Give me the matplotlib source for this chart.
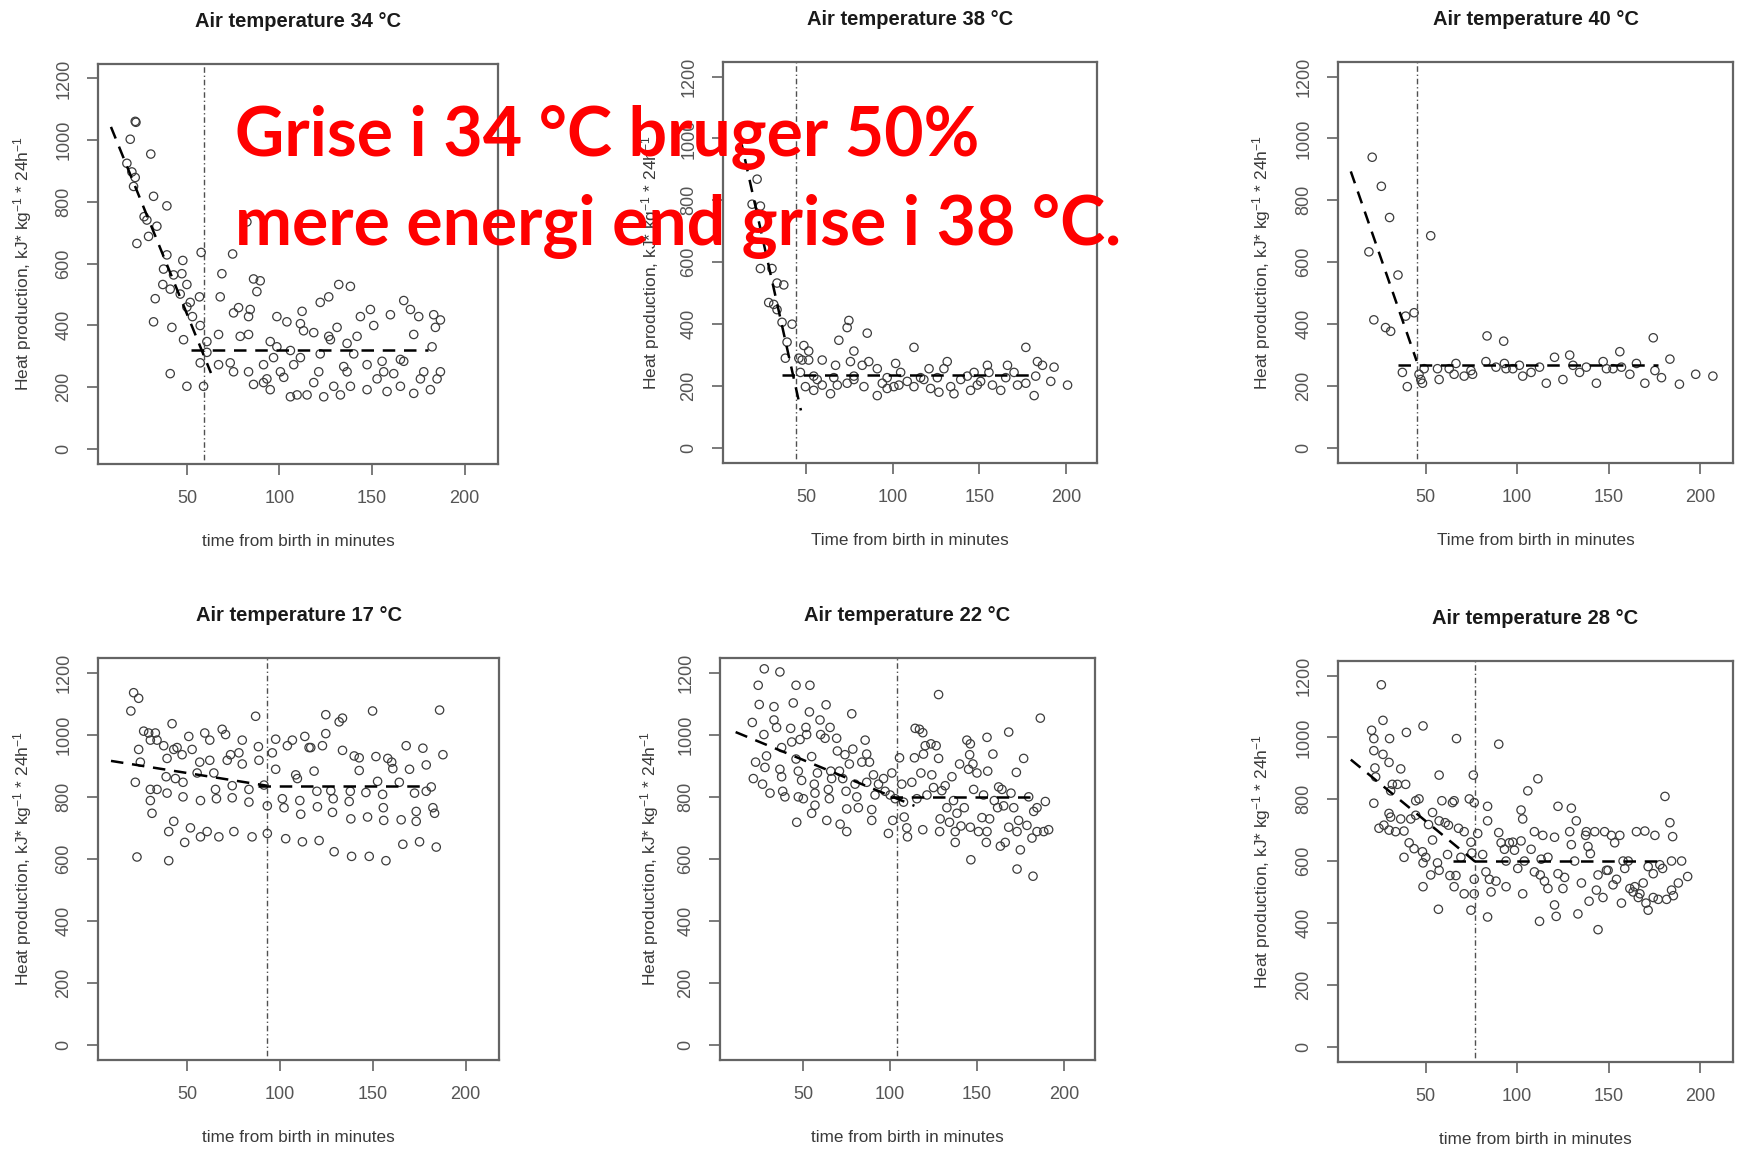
import matplotlib
matplotlib.use("Agg")
import matplotlib.pyplot as plt

plt.rcParams['font.family'] = ['Liberation Sans', 'DejaVu Sans']
plt.rcParams['mathtext.default'] = 'regular'

# ---- data (minutes, kJ kg-1 24h-1) ----
t34_x = [22.1, 22.5, 19.4, 30.5, 17.6, 20.3, 22.1, 21.2, 32.0, 39.2, 26.9, 28.4, 33.8, 23.0, 29.3,
         39.2, 47.8, 57.7, 37.4, 42.8, 47.3, 37.0, 50.0, 32.9, 32.0, 46.4, 41.0, 50.0, 51.8, 56.8,
         53.0, 57.2, 41.9, 48.2, 41.0, 50.0, 59.0, 57.2, 60.8, 60.8, 67.1, 68.0, 68.9, 74.7, 82.4,
         86.0, 89.6, 87.8, 77.9, 75.2, 84.2, 83.3, 78.8, 83.3, 73.4, 67.1, 75.2, 83.3, 86.0, 91.4,
         95.0, 98.6, 98.6, 104.0, 91.4, 93.2, 95.0, 100.5, 102.3, 105.9, 109.5, 114.9, 107.7, 111.3,
         112.2, 113.0, 118.5, 118.5, 122.0, 126.6, 123.9, 127.5, 131.1, 129.3, 132.9, 132.0, 138.3,
         136.5, 138.3, 140.1, 143.7, 149.1, 150.9, 147.3, 147.3, 141.9, 152.7, 155.4, 158.1, 159.9,
         161.7, 165.3, 167.1, 170.7, 172.5, 172.5, 175.2, 177.9, 176.1, 183.3, 184.2, 182.4, 186.9,
         186.9, 181.5, 185.1, 165.3, 156.3, 167.1, 136.5, 134.7, 122.0, 121.2, 126.6, 105.9, 111.3, 96.8]
t34_y = [1061, 1058, 1003, 955, 925, 897, 879, 850, 818, 787, 752, 741, 721, 665, 688,
         628, 610, 636, 582, 563, 567, 532, 532, 486, 411, 501, 517, 459, 474, 492,
         428, 399, 393, 353, 243, 202, 202, 278, 312, 347, 370, 492, 567, 631, 735,
         550, 544, 509, 457, 440, 451, 428, 364, 370, 278, 272, 249, 249, 208, 214,
         347, 330, 428, 411, 272, 226, 191, 249, 231, 168, 174, 174, 272, 405,
         445, 382, 376, 214, 474, 492, 168, 353, 393, 202, 174, 532, 526,
         249, 202, 307, 428, 451, 399, 272, 191, 364, 226, 283, 185, 434,
         243, 202, 480, 451, 370, 179, 428, 249, 226, 434, 393, 330, 417,
         249, 191, 226, 289, 249, 283, 341, 266, 307, 249, 364, 318, 295, 295]

t38_x = [21.7, 18.8, 23.6, 23.6, 30.3, 33.2, 37.1, 28.4, 31.3, 33.2, 41.9, 36.1, 39.0, 38.0, 45.8,
         48.7, 51.5, 47.7, 51.5, 46.7, 49.6, 54.4, 59.3, 56.4, 59.3, 64.1, 67.0, 68.0, 68.9, 73.7,
         74.7, 77.6, 75.6, 73.7, 77.6, 83.4, 82.4, 85.3, 86.2, 91.1, 91.1, 94.0, 96.8, 100.7, 101.7,
         103.6, 108.4, 112.3, 112.3, 116.1, 121.0, 121.9, 125.8, 126.7, 129.6, 131.5, 133.5, 135.4,
         139.3, 143.1, 145.0, 148.9, 154.7, 155.6, 157.6, 162.4, 165.3, 166.3, 172.1, 176.9, 176.9,
         181.7, 182.6, 183.6, 186.5, 191.3, 193.2, 201.0, 170.1, 150.8, 147.0, 118.0, 104.6, 96.8,
         77.6, 66.0, 54.4]
t38_y = [868, 787, 781, 579, 579, 532, 526, 469, 463, 446, 399, 405, 341, 289, 289,
         330, 312, 283, 283, 243, 197, 185, 283, 220, 202, 174, 266, 202, 347, 388,
         411, 312, 278, 208, 231, 197, 266, 370, 278, 255, 168, 208, 226, 197, 272,
         202, 214, 324, 197, 226, 255, 191, 226, 179, 255, 278, 197, 174,
         220, 231, 185, 202, 266, 243, 202, 185, 226, 266, 202, 324, 208,
         168, 231, 278, 266, 214, 260, 202, 243, 214, 243, 220, 243, 191,
         220, 226, 231]

t40_x = [20.7, 25.7, 30.2, 18.9, 34.8, 52.7, 21.6, 28.0, 30.8, 39.0, 43.6, 37.2, 39.9, 46.3, 47.3,
         48.2, 49.1, 57.3, 56.4, 62.8, 65.5, 66.5, 71.0, 74.7, 75.6, 82.9, 83.5, 88.4, 92.6, 93.0,
         93.9, 97.6, 101.2, 103.0, 107.6, 112.2, 115.9, 120.4, 125.0, 128.7, 130.5, 134.1, 137.8,
         143.3, 147.0, 148.8, 152.4, 156.1, 157.0, 161.6, 165.2, 169.8, 174.4, 175.3, 178.9, 183.5,
         188.7, 197.6, 207.0]
t40_y = [939, 845, 744, 633, 558, 685, 413, 388, 376, 425, 436, 243, 197, 237, 220,
         208, 255, 220, 255, 255, 237, 272, 231, 249, 237, 278, 361, 260, 344, 272,
         255, 255, 266, 231, 243, 260, 208, 292, 220, 299, 266, 243, 260,
         208, 278, 255, 255, 310, 260, 237, 272, 208, 355, 249, 226, 286,
         205, 237, 231]

t17_x = [19.7, 21.2, 23.9, 22.1, 23.0, 23.9, 24.8, 26.6, 29.3, 30.2, 32.9, 33.8, 30.2, 30.2, 31.1,
         33.8, 37.4, 39.2, 38.7, 39.2, 40.1, 40.1, 41.9, 42.8, 43.7, 42.8, 44.6, 47.3, 47.8, 47.8,
         48.7, 50.9, 52.7, 51.8, 55.4, 56.8, 57.2, 57.2, 59.5, 60.8, 62.2, 62.2, 64.4, 65.3, 65.8,
         67.1, 68.9, 70.7, 71.6, 73.4, 74.3, 74.3, 75.2, 77.9, 79.7, 79.7, 83.3, 85.0, 83.3, 86.9,
         88.4, 88.7, 91.4, 93.2, 93.2, 95.9, 97.7, 97.7, 101.3, 102.2, 103.1, 104.0, 106.7, 108.5,
         109.4, 110.7, 111.2, 112.1, 113.4, 115.7, 116.6, 118.4, 119.9, 120.2, 121.1, 122.9, 124.7,
         124.7, 127.4, 128.7, 128.3, 129.2, 131.9, 133.7, 133.7, 137.3, 137.9, 138.2, 138.6, 140.0,
         142.7, 142.7, 146.3, 147.2, 148.1, 149.9, 151.7, 152.6, 155.3, 155.7, 155.9, 157.1, 158.1,
         160.2, 160.8, 164.3, 165.3, 166.2, 168.0, 169.8, 172.5, 173.4, 173.4, 175.2, 177.0, 178.8,
         178.8, 181.5, 182.4, 183.3, 184.2, 186.0, 187.8]
t17_y = [1076, 1135, 1117, 846, 605, 952, 911, 1011, 1005, 982, 1005, 982, 823, 787, 746,
         823, 964, 923, 864, 811, 687, 593, 1035, 952, 858, 720, 958, 935, 846, 799,
         652, 994, 952, 699, 876, 911, 787, 670, 1005, 687, 982, 917, 876, 823, 793,
         670, 1017, 1000, 917, 935, 835, 796, 687, 941, 982, 905, 782, 670, 823, 1059,
         961, 917, 837, 770, 681, 941, 985, 888, 793, 764, 664, 964, 982, 870,
         858, 787, 743, 654, 994, 958, 958, 882, 817, 767, 658, 964, 1064,
         1003, 819, 793, 749, 622, 1041, 1053, 949, 784, 817, 728, 607, 931,
         925, 884, 813, 734, 607, 1076, 929, 849, 807, 764, 723, 593, 923,
         911, 890, 846, 725, 646, 964, 888, 811, 752, 720, 654, 956, 902,
         817, 831, 764, 746, 637, 1079, 935]

t22_x = [20.6, 21.2, 22.5, 24.0, 24.6, 26.5, 27.3, 27.5, 27.9, 28.8, 30.8, 33.1, 33.1, 34.6, 36.5,
         36.5, 37.5, 37.5, 38.1, 39.4, 42.7, 43.3, 44.2, 45.8, 45.8, 46.2, 47.1, 47.1, 48.1, 49.0,
         50.0, 51.5, 51.9, 53.5, 53.8, 54.8, 54.8, 56.3, 56.7, 56.7, 58.1, 59.6, 60.0, 62.5, 63.1,
         63.5, 64.4, 65.0, 65.4, 65.8, 66.3, 69.2, 69.6, 70.8, 71.2, 72.7, 74.0, 74.6, 75.0, 75.0,
         76.5, 77.9, 78.5, 79.8, 80.8, 81.7, 83.7, 85.6, 86.5, 86.5, 88.1, 89.4, 89.4, 90.4, 91.3,
         93.3, 96.2, 97.1, 99.0, 100.0, 101.0, 101.5, 102.9, 105.4, 106.7, 107.7, 108.1, 109.6,
         110.0, 112.5, 114.0, 114.4, 115.4, 116.9, 117.7, 118.8, 118.8, 119.2, 120.2, 121.2, 123.5,
         124.0, 125.0, 126.5, 127.9, 127.9, 128.5, 128.8, 129.8, 131.7, 132.7, 134.2, 135.6, 136.5,
         137.5, 137.5, 138.5, 140.0, 140.8, 142.7, 144.2, 145.2, 145.8, 146.2, 146.2, 146.5, 147.7,
         148.1, 150.0, 150.9, 152.9, 153.8, 155.4, 155.8, 155.8, 156.2, 157.3, 159.2, 160.0, 161.9,
         162.5, 163.5, 164.4, 165.4, 166.3, 168.3, 168.3, 169.6, 171.2, 172.7, 173.1, 173.1, 174.0,
         175.0, 176.9, 178.8, 179.8, 181.7, 182.3, 182.7, 184.6, 186.5, 189.4, 188.5, 191.3, 184.6]
t22_y = [1039, 858, 911, 1159, 1097, 840, 1000, 1212, 894, 931, 811, 1090, 1047, 1023, 1202,
         888, 958, 864, 817, 799, 1020, 976, 1102, 1159, 921, 717, 882, 799, 984, 852,
         793, 1023, 1000, 1073, 1159, 929, 746, 840, 811, 772, 876, 1047, 1000, 988, 1096,
         723, 823, 793, 1023, 882, 858, 988, 947, 882, 711, 858, 935, 817, 760, 687,
         905, 1067, 953, 840, 799, 764, 911, 982, 937, 846, 911, 758, 723, 870, 805,
         840, 858, 817, 681, 805, 876, 723, 793, 925, 840, 782, 734, 699,
         670, 846, 925, 1020, 793, 1017, 876, 1006, 693, 937, 964, 805, 970,
         870, 829, 964, 923, 1129, 687, 728, 819, 835, 764, 717, 864, 787,
         687, 652, 746, 905, 705, 764, 982, 888, 935, 970, 701, 596, 905,
         823, 876, 687, 732, 805, 652, 687, 991, 882, 728, 937, 787, 764,
         831, 640, 823, 770, 652, 1008, 701, 811, 764, 878, 687, 566, 723,
         628, 923, 707, 799, 666, 543, 752, 764, 1053, 784, 687, 693, 687]

t28_x = [25.7, 26.6, 20.4, 21.6, 30.2, 21.6, 26.6, 29.9, 22.2, 22.6, 36.3, 31.7, 34.5, 39.0, 39.4,
         48.5, 21.6, 30.8, 29.9, 30.8, 24.4, 27.1, 29.9, 33.5, 36.3, 38.1, 38.1, 41.8, 40.9, 44.5,
         46.3, 44.5, 43.6, 48.2, 48.5, 48.5, 50.0, 53.7, 53.7, 52.7, 51.5, 57.3, 56.9, 58.8, 57.3,
         56.4, 57.3, 60.6, 62.4, 64.6, 65.5, 61.9, 63.2, 66.5, 65.5, 66.8, 67.9, 71.0, 69.2, 71.0,
         73.8, 74.7, 75.2, 76.0, 76.5, 76.5, 76.5, 74.7, 78.4, 81.1, 82.9, 83.8, 83.8, 83.8, 84.8,
         85.7, 88.4, 89.9, 89.9, 91.2, 93.0, 93.9, 93.9, 95.7, 97.6, 98.5, 100.3, 102.1, 102.1,
         103.0, 103.0, 103.9, 105.8, 107.6, 109.4, 109.4, 111.3, 112.2, 112.6, 113.1, 114.0, 114.9,
         116.8, 116.8, 120.4, 120.4, 121.3, 122.3, 122.3, 125.0, 125.9, 128.7, 129.6, 129.6, 131.4,
         132.3, 133.2, 135.1, 137.4, 137.8, 138.7, 139.3, 140.0, 142.4, 143.3, 144.2, 144.2, 147.8,
         146.9, 148.8, 149.7, 151.5, 152.4, 153.3, 154.3, 156.1, 157.0, 157.9, 158.8, 160.7, 161.6,
         163.4, 164.3, 165.2, 166.2, 167.1, 168.9, 169.8, 170.4, 171.6, 171.6, 174.4, 175.3, 174.4,
         177.1, 178.0, 179.5, 180.8, 181.7, 183.5, 184.4, 184.4, 185.0, 185.4, 189.9, 188.1, 193.2]
t28_y = [1170, 1055, 1023, 996, 996, 957, 945, 919, 901, 872, 898, 848, 848, 848, 1016,
         1037, 787, 827, 754, 742, 706, 716, 700, 695, 736, 697, 612, 736, 659, 795,
         801, 748, 640, 630, 594, 517, 612, 757, 668, 555, 718, 878, 444, 795, 730,
         594, 570, 724, 716, 789, 795, 621, 553, 553, 517, 996, 706, 695, 612, 494,
         801, 661, 626, 878, 789, 541, 494, 441, 689, 621, 565, 777, 730, 419, 541,
         500, 535, 978, 692, 659, 638, 600, 517, 659, 661, 635, 576, 665, 765,
         736, 494, 600, 827, 638, 695, 565, 866, 405, 555, 606, 683, 535,
         511, 612, 677, 458, 421, 777, 559, 511, 547, 695, 771, 653, 600,
         730, 429, 529, 683, 695, 647, 470, 624, 695, 506, 555, 378, 695,
         482, 570, 570, 683, 523, 659, 541, 683, 464, 600, 576, 600, 511,
         500, 517, 695, 482, 494, 529, 697, 464, 441, 582, 482, 683, 559,
         476, 588, 576, 809, 476, 724, 506, 600, 679, 488, 600, 529, 550]

# fitted broken-line models: falling part and plateau
t34_fit1 = ([9, 63], [1043, 245])
t34_fit2 = ([52, 180], [320, 320])
t38_fit1 = ([12, 47], [1000, 120])
t38_fit2 = ([36, 180], [236, 236])
t40_fit1 = ([9, 45], [893, 280])
t40_fit2 = ([35, 177], [266, 266])
t17_fit1 = ([9, 93], [915, 835])
t17_fit2 = ([88, 180], [835, 835])
t22_fit1 = ([11, 114], [1008, 770])
t22_fit2 = ([100, 181], [800, 800])
t28_fit1 = ([9, 77], [928, 598])
t28_fit2 = ([65, 178], [600, 600])

breakpoints = [59, 44, 45, 93, 104, 77]
titles = ['Air temperature 34 °C', 'Air temperature 38 °C', 'Air temperature 40 °C',
          'Air temperature 17 °C', 'Air temperature 22 °C', 'Air temperature 28 °C']
xlabels = ['time from birth in minutes', 'Time from birth in minutes', 'Time from birth in minutes',
           'time from birth in minutes', 'time from birth in minutes', 'time from birth in minutes']
ylabel = 'Heat production, kJ* kg$^{-1}$ * 24h$^{-1}$'
xticks = [50, 100, 150, 200]
yticks = [0, 200, 400, 600, 800, 1000, 1200]

panels = [
    (t34_x, t34_y, t34_fit1, t34_fit2),
    (t38_x, t38_y, t38_fit1, t38_fit2),
    (t40_x, t40_y, t40_fit1, t40_fit2),
    (t17_x, t17_y, t17_fit1, t17_fit2),
    (t22_x, t22_y, t22_fit1, t22_fit2),
    (t28_x, t28_y, t28_fit1, t28_fit2),
]

# axes boxes in pixels: left, top, right, bottom ; ylabel offset (px)
W, H = 1748, 1152
boxes = [(98, 64, 498, 464), (723, 62, 1097, 463), (1338, 62, 1733, 463),
         (98, 658, 499, 1060), (720, 658, 1095, 1060), (1338, 661, 1733, 1062)]
ylab_off = [64, 61, 65, 64, 59, 65]

fig = plt.figure(figsize=(W / 100, H / 100), dpi=100)
fig.patch.set_facecolor('white')

frame = '#646464'
for i, (px, py, f1, f2) in enumerate(panels):
    l, t, r, b = boxes[i]
    ax = fig.add_axes([l / W, 1 - b / H, (r - l) / W, (b - t) / H])
    ax.scatter(px, py, s=36, facecolors='none', edgecolors='#3c3c3c', linewidths=0.9, zorder=3)
    ax.plot(f1[0], f1[1], color='black', lw=1.8, ls=(0, (5, 3.5)), zorder=4)
    ax.plot(f2[0], f2[1], color='black', lw=1.8, ls=(0, (5, 3.5)), zorder=4)
    ax.axvline(breakpoints[i], color='#505050', lw=1.0, ls=(0, (1, 2, 4, 2)), zorder=2)

    ax.set_xlim(2, 218)
    ax.set_ylim(-50, 1247)
    ax.set_xticks(xticks)
    ax.set_yticks(yticks)
    for sp in ax.spines.values():
        sp.set_color(frame)
        sp.set_linewidth(1.6)
    ax.tick_params(direction='out', length=8, width=1.2, color=frame,
                   labelsize=13, labelcolor='#555555', pad=10.5)
    ax.tick_params(axis='y', labelrotation=90)
    for lab in ax.get_yticklabels():
        lab.set_va('center')

    ax.set_title(titles[i], fontsize=14.5, fontweight='bold', color='#1a1a1a', pad=26.5)
    ax.set_xlabel(xlabels[i], fontsize=12.3, color='#3a3a3a')
    ax.xaxis.set_label_coords(0.5, -70 / (b - t))
    ax.set_ylabel(ylabel, fontsize=12.5, color='#3a3a3a')
    ax.yaxis.set_label_coords(-ylab_off[i] / (r - l), 0.5)

# red overlay message
fig.text(235 / W, 1 - 156 / H, 'Grise i 34 °C bruger 50%', color='#ff0000',
         fontsize=49, fontweight='bold', family=['Lato', 'DejaVu Sans'], va='baseline', ha='left')
fig.text(235 / W, 1 - 245 / H, 'mere energi end grise i 38 °C.', color='#ff0000',
         fontsize=49, fontweight='bold', family=['Lato', 'DejaVu Sans'], va='baseline', ha='left')

fig.savefig('out.png', dpi=100)
